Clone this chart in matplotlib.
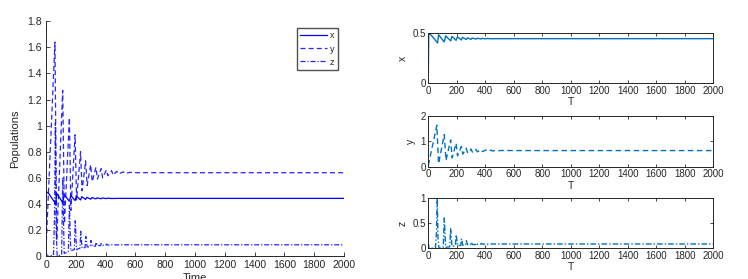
import numpy as np
import matplotlib.pyplot as plt
from matplotlib.ticker import FuncFormatter

# --- data (turning points of each series) ---
t_x = [0, 3, 12, 65, 72, 112, 122, 157, 166, 195, 204, 232, 240, 266, 274,
       300, 308, 335, 343, 370, 378, 405, 413, 440, 480, 2000]
x_vals = [0.10, 0.48, 0.49, 0.40, 0.48, 0.41, 0.47, 0.42, 0.465, 0.425, 0.46,
          0.43, 0.455, 0.434, 0.45, 0.436, 0.448, 0.438, 0.446, 0.439, 0.445,
          0.440, 0.444, 0.441, 0.442, 0.442]

t_y = [0, 60, 72, 112, 124, 157, 167, 195, 205, 232, 242, 266, 276, 300, 310,
       335, 345, 370, 380, 405, 415, 440, 450, 475, 485, 520, 530, 565, 600, 2000]
y_vals = [0.05, 1.64, 0.12, 1.27, 0.25, 1.06, 0.35, 0.93, 0.43, 0.80, 0.50,
          0.73, 0.54, 0.70, 0.57, 0.68, 0.59, 0.67, 0.60, 0.66, 0.615, 0.655,
          0.62, 0.65, 0.63, 0.645, 0.633, 0.642, 0.639, 0.639]

t_z = [0, 5, 50, 57, 63, 68, 75, 105, 112, 122, 150, 157, 166, 190, 196, 205,
       228, 233, 242, 262, 267, 276, 296, 301, 310, 331, 336, 345, 366, 371,
       380, 402, 406, 415, 440, 445, 455, 500, 2000]
z_vals = [0.10, 0.0, 0.005, 0.30, 1.02, 0.20, 0.0, 0.01, 0.60, 0.02, 0.03,
          0.39, 0.04, 0.05, 0.27, 0.05, 0.06, 0.19, 0.06, 0.065, 0.15, 0.07,
          0.07, 0.12, 0.075, 0.075, 0.105, 0.08, 0.08, 0.097, 0.082, 0.083,
          0.092, 0.084, 0.084, 0.089, 0.085, 0.086, 0.086]

x_ticks = np.arange(0, 2001, 200)
left_yticks = np.arange(0, 1.81, 0.2)

plt.rcParams['font.family'] = ['Liberation Sans', 'DejaVu Sans']
grey = '#262626'
blue = '#0000ff'
mblue = '#0072bd'

fig = plt.figure(figsize=(7.48, 2.79), dpi=100)

# left: all populations together
ax = fig.add_axes([0.0615, 0.0824, 0.3985, 0.8413])
ax.plot(t_x, x_vals, '-', color=blue, lw=0.9, label='x')
ax.plot(t_y, y_vals, '--', color=blue, lw=0.9, alpha=0.85, label='y', dashes=(4, 2.5))
ax.plot(t_z, z_vals, '-.', color=blue, lw=0.9, alpha=0.85, label='z', dashes=(4, 1.5, 1, 1.5))
ax.set_xlim(0, 2000)
ax.set_ylim(0, 1.8)
ax.set_xticks(x_ticks)
ax.set_yticks(left_yticks)
ax.yaxis.set_major_formatter(FuncFormatter(lambda v, p: f'{v:g}'))
for s in ['top', 'right']:
    ax.spines[s].set_visible(False)
for s in ['left', 'bottom']:
    ax.spines[s].set_color(grey)
    ax.spines[s].set_linewidth(0.7)
ax.tick_params(direction='in', length=3, width=0.6, colors=grey, labelsize=7.5, pad=3)
ax.set_ylabel('Populations', fontsize=8, color=grey, labelpad=5)
ax.set_xlabel('Time', fontsize=8, color=grey, labelpad=2)
leg = ax.legend(loc='upper right', bbox_to_anchor=(0.978, 0.97), fontsize=6.5,
                frameon=True, fancybox=False, borderpad=0.35, handlelength=3.0,
                handletextpad=0.3, labelspacing=0.45, borderaxespad=0)
leg.get_frame().set_edgecolor(grey)
leg.get_frame().set_linewidth(1.0)
for t in leg.get_texts():
    t.set_color(grey)

# right: one panel each
panels = [
    (t_x, x_vals, '-', 'x', [0, 0.5], 0.5, 0.7014, None),
    (t_y, y_vals, '--', 'y', [0, 1, 2], 2, 0.4025, (4, 2.5)),
    (t_z, z_vals, '-.', 'z', [0, 0.5, 1], 1, 0.1100, (4, 1.5, 1, 1.5)),
]
for tt, vv, ls, name, yt, ytop, bottom, dsh in panels:
    a = fig.add_axes([0.5726, bottom, 0.381, 0.181])
    if dsh:
        a.plot(tt, vv, ls, color=mblue, lw=1.0, dashes=dsh)
    else:
        a.plot(tt, vv, ls, color=mblue, lw=1.0)
    a.set_xlim(0, 2000)
    a.set_ylim(0, ytop)
    a.set_xticks(x_ticks)
    a.set_yticks(yt)
    a.yaxis.set_major_formatter(FuncFormatter(lambda v, p: f'{v:g}'))
    for s in a.spines.values():
        s.set_color(grey)
        s.set_linewidth(0.7)
    a.tick_params(direction='in', length=2.5, width=0.6, colors=grey,
                  labelsize=7, pad=2, top=True, right=True)
    a.set_xlabel('T', fontsize=7.5, color=grey, labelpad=1)
    a.set_ylabel(name, fontsize=7.5, color=grey, labelpad=3)

fig.savefig('out.png', dpi=100)
